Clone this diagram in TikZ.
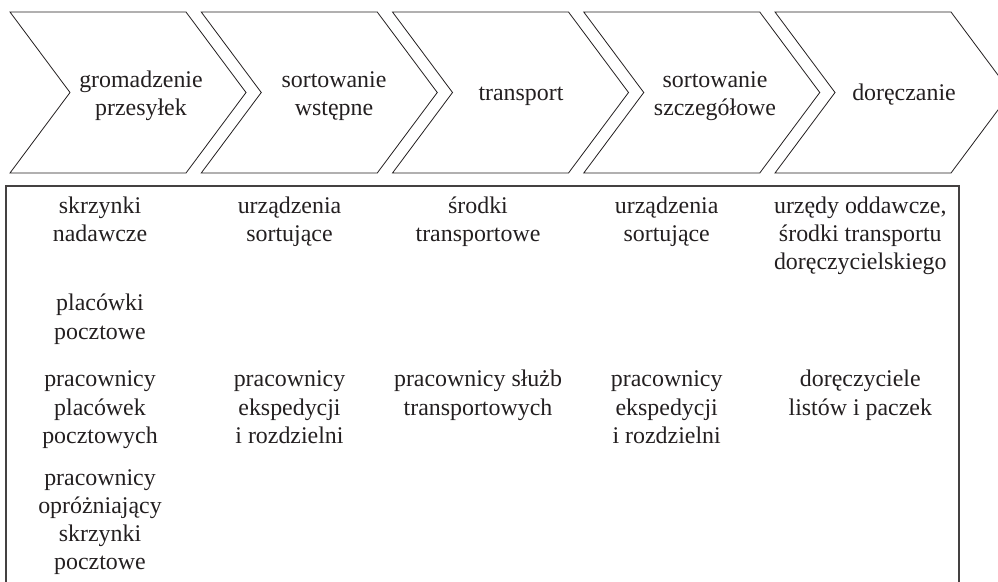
\documentclass[tikz,border=0pt]{standalone}
\usepackage{fontspec}
\setmainfont{Liberation Serif}
\definecolor{ink}{RGB}{35,31,32}
\begin{document}
\begin{tikzpicture}[x=1pt,y=-1pt,
  chev/.style={draw=ink,line width=0.8pt,line join=miter},
  frame/.style={draw=ink!85,line width=1.3pt},
  lbl/.style={font=\fontsize{23.9}{28.3}\selectfont,text=ink,align=center,inner sep=0pt,anchor=base}]
\useasboundingbox (0,0) rectangle (998,581);
\clip (0,0) rectangle (998,581);
% chevrons
\foreach \i in {0,...,4}{
  \pgfmathsetmacro{\L}{10+191.25*\i}
  \draw[chev] (\L,12) -- (\L+176,12) -- (\L+236,92.5) -- (\L+176,173) -- (\L,173) -- (\L+60,92.5) -- cycle;
}
% (base anchor = baseline of the last line)
\node[lbl] (h1) at (141,115.3) {gromadzenie\\przesyłek};
\node[lbl] (h2) at (334,115.3) {sortowanie\\wstępne};
\node[lbl] (h3) at (521,100) {transport};
\node[lbl] (h4) at (715,115.3) {sortowanie\\szczegółowe};
\node[lbl] (h5) at (904,100) {doręczanie};
% frame
\draw[frame] (6,620) -- (6,186) -- (959,186) -- (959,620);
% column 1
\node[lbl] (a1) at (100,241.6) {skrzynki\\nadawcze};
\node[lbl] (a2) at (100,339) {placówki\\pocztowe};
\node[lbl] (a3) at (100,443.3) {pracownicy\\placówek\\pocztowych};
\node[lbl] (a4) at (100,569.9) {pracownicy\\opróżniający\\skrzynki\\pocztowe};
% column 2
\node[lbl] (b1) at (289.5,241.6) {urządzenia\\sortujące};
\node[lbl] (b3) at (289.5,443.3) {pracownicy\\ekspedycji\\i rozdzielni};
% column 3
\node[lbl] (c1) at (478,241.6) {środki\\transportowe};
\node[lbl] (c3) at (478,415) {pracownicy służb\\transportowych};
% column 4
\node[lbl] (d1) at (666.7,241.6) {urządzenia\\sortujące};
\node[lbl] (d3) at (666.7,443.3) {pracownicy\\ekspedycji\\i rozdzielni};
% column 5
\node[lbl] (e1) at (860.3,269.9) {urzędy oddawcze,\\środki transportu\\doręczycielskiego};
\node[lbl] (e3) at (860.3,415) {doręczyciele\\listów i paczek};
\end{tikzpicture}
\end{document}
